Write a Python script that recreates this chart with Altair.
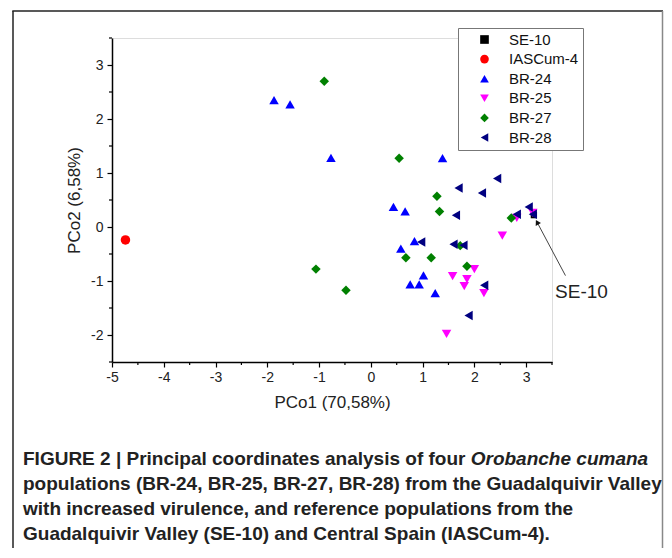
import altair as alt
import pandas as pd

groups = ["SE-10", "IASCum-4", "BR-24", "BR-25", "BR-27", "BR-28"]
colors = ["#000000", "#ff0000", "#0000ff", "#ff00ff", "#008000", "#000080"]
shapes = ["square", "circle", "triangle-up", "triangle-down", "diamond", "triangle-left"]

se10_x = [3.15]
se10_y = [0.22]
iascum4_x = [-4.74]
iascum4_y = [-0.24]
br24_x = [-1.87, -1.56, -0.77, 1.385, 0.437, 0.663, 0.58, 0.843, 1.017, 0.76, 0.934, 1.244]
br24_y = [2.35, 2.27, 1.28, 1.275, 0.371, 0.291, -0.40, -0.26, -0.896, -1.063, -1.063, -1.224]
br25_x = [2.54, 1.58, 1.857, 1.805, 2.0, 2.185, 1.463, 2.82, 3.13]
br25_y = [-0.16, -0.91, -0.965, -1.095, -0.78, -1.224, -1.98, 0.17, 0.26]
br27_x = [-0.90, 0.547, 1.277, 1.327, 0.677, 1.166, 1.727, 1.857, 2.714, -1.06, -0.48]
br27_y = [2.70, 1.275, 0.57, 0.285, -0.568, -0.568, -0.345, -0.729, 0.167, -0.78, -1.17]
br28_x = [2.44, 1.695, 2.147, 3.05, 1.644, 2.82, 3.13, 0.973, 1.598, 1.79, 2.19, 1.888]
br28_y = [0.90, 0.724, 0.63, 0.37, 0.217, 0.236, 0.236, -0.278, -0.321, -0.34, -1.08, -1.64]

arrow_x = [3.76, 3.22]
arrow_y = [-0.90, 0.074]
arrow_label = "SE-10"
arrow_label_x = [3.56]
arrow_label_y = [-1.21]

x_major = [-5, -4, -3, -2, -1, 0, 1, 2, 3]
x_minor = [-4.5, -3.5, -2.5, -1.5, -0.5, 0.5, 1.5, 2.5, 3.5]
y_major = [-2, -1, 0, 1, 2, 3]
y_minor = [-2.5, -1.5, -0.5, 0.5, 1.5, 2.5, 3.5]

x_title = "PCo1 (70,58%)"
y_title = "PCo2 (6,58%)"

caption_line1a = "FIGURE 2 | Principal coordinates analysis of four "
caption_line1b = "Orobanche cumana"
caption_lines = [
    "populations (BR-24, BR-25, BR-27, BR-28) from the Guadalquivir Valley",
    "with increased virulence, and reference populations from the",
    "Guadalquivir Valley (SE-10) and Central Spain (IASCum-4).",
]

FONT = "Liberation Sans, Arial, sans-serif"

series = [
    ("SE-10", se10_x, se10_y),
    ("IASCum-4", iascum4_x, iascum4_y),
    ("BR-24", br24_x, br24_y),
    ("BR-25", br25_x, br25_y),
    ("BR-27", br27_x, br27_y),
    ("BR-28", br28_x, br28_y),
]
rows = []
for g, xs, ys in series:
    for xv, yv in zip(xs, ys):
        rows.append({"group": g, "x": xv, "y": yv})
df = pd.DataFrame(rows)
df["idx"] = range(len(df))

W, H = 440, 324
xscale = alt.Scale(domain=[-5, 3.5], nice=False, zero=False)
yscale = alt.Scale(domain=[-2.5, 3.5], nice=False, zero=False)

xaxis = alt.Axis(values=x_major, format="d", tickSize=5, grid=False,
                 domainColor="#000", domainWidth=1.5, tickColor="#000", tickWidth=1.2,
                 labelFont=FONT, labelFontSize=14, labelColor="#222", labelPadding=3,
                 title=x_title, titleFont=FONT, titleFontSize=17, titleFontWeight="normal",
                 titleColor="#222", titlePadding=10, labelFlush=False, labelOverlap=False)
yaxis = alt.Axis(values=y_major, format="d", tickSize=5, grid=False,
                 domainColor="#000", domainWidth=1.5, tickColor="#000", tickWidth=1.2,
                 labelFont=FONT, labelFontSize=14, labelColor="#222", labelPadding=4,
                 title=y_title, titleFont=FONT, titleFontSize=17, titleFontWeight="normal",
                 titleColor="#222", titlePadding=7, labelFlush=False, labelOverlap=False)

NB = "\u00a0" * 11
legend = alt.Legend(title=None, orient="none", legendX=346, legendY=-10, padding=4,
                    strokeColor="#777", fillColor="white", symbolOffset=15, labelOffset=17,
                    rowPadding=3.6, labelFont=FONT, labelFontSize=15, labelColor="#111",
                    symbolSize=75, symbolStrokeWidth=0,
                    labelExpr="datum.label + '" + NB + "'")

enc = dict(
    x=alt.X("x:Q", scale=xscale, axis=xaxis),
    y=alt.Y("y:Q", scale=yscale, axis=yaxis),
    color=alt.Color("group:N", scale=alt.Scale(domain=groups, range=colors), legend=legend),
    shape=alt.Shape("group:N", scale=alt.Scale(domain=groups, range=shapes), legend=legend),
    order=alt.Order("idx:Q"),
)
ref_pts = alt.Chart(df).transform_filter(alt.datum.group == "SE-10").mark_point(
    filled=True, size=40, opacity=1).encode(**enc)
pts = alt.Chart(df).transform_filter(alt.datum.group != "SE-10").mark_point(
    filled=True, size=90, opacity=1).encode(**enc)

# minor ticks
xminor_df = pd.DataFrame({"v": x_minor})
yminor_df = pd.DataFrame({"v": y_minor})
xminor = alt.Chart(xminor_df).mark_rule(color="#000", strokeWidth=1.2).encode(
    x=alt.X("v:Q", scale=xscale), y=alt.value(H), y2=alt.value(H + 3))
yminor = alt.Chart(yminor_df).mark_rule(color="#000", strokeWidth=1.2).encode(
    y=alt.Y("v:Q", scale=yscale), x=alt.value(-3), x2=alt.value(0))

arrow_df = pd.DataFrame({"x": arrow_x, "y": arrow_y, "o": [0, 1]})
arrow_line = alt.Chart(arrow_df).mark_line(color="#444", strokeWidth=1).encode(
    x="x:Q", y="y:Q", order="o:Q")
head_df = pd.DataFrame({"x": [arrow_x[1]], "y": [arrow_y[1]]})
arrow_head = alt.Chart(head_df).mark_point(shape="triangle", filled=True, color="#111",
                                           size=35, angle=332, opacity=1).encode(x="x:Q", y="y:Q")
lab_df = pd.DataFrame({"x": arrow_label_x, "y": arrow_label_y, "t": [arrow_label]})
arrow_text = alt.Chart(lab_df).mark_text(align="left", baseline="middle", font=FONT,
                                         fontSize=19, color="#222").encode(
    x="x:Q", y="y:Q", text="t:N")

one = pd.DataFrame({"a": [0]})
frame_left = alt.Chart(one).mark_rule(color="#222", strokeWidth=1.5).encode(
    x=alt.value(-99), y=alt.value(-27), y2=alt.value(530))
frame_top = alt.Chart(one).mark_rule(color="#222", strokeWidth=1.5).encode(
    x=alt.value(-99.7), x2=alt.value(551), y=alt.value(-27))
frame_right = alt.Chart(one).mark_rule(color="#888", strokeWidth=1.5).encode(
    x=alt.value(550.5), y=alt.value(-27), y2=alt.value(530))

CFS = 19
cap_x = -89
cap_layers = []
cap_layers.append(alt.Chart(one).mark_text(align="left", baseline="middle", font=FONT,
                                           fontSize=CFS, fontWeight="bold", color="#222").encode(
    x=alt.value(cap_x), y=alt.value(421), text=alt.value(caption_line1a)))
cap_layers.append(alt.Chart(one).mark_text(align="left", baseline="middle", font=FONT,
                                           fontSize=CFS, fontWeight="bold", fontStyle="italic",
                                           color="#222").encode(
    x=alt.value(cap_x + 23.565 * CFS), y=alt.value(421), text=alt.value(caption_line1b)))
for i, line in enumerate(caption_lines):
    cap_layers.append(alt.Chart(one).mark_text(align="left", baseline="middle", font=FONT,
                                               fontSize=CFS, fontWeight="bold", color="#222").encode(
        x=alt.value(cap_x), y=alt.value(446 + 25 * i), text=alt.value(line)))

chart = alt.layer(ref_pts, pts, xminor, yminor, arrow_line, arrow_head, arrow_text,
                  frame_left, frame_top, frame_right, *cap_layers).properties(
    width=W, height=H,
    autosize=alt.AutoSizeParams(type="none"),
    padding={"left": 104, "top": 30, "right": 112, "bottom": 186},
    background="white",
).configure_view(stroke=None).configure(
    locale={"number": {"decimal": ".", "thousands": ",", "grouping": [3],
                       "currency": ["$", ""], "minus": "-"}}
)

chart.save("out.html", embed_options={"renderer": "svg", "actions": False})
